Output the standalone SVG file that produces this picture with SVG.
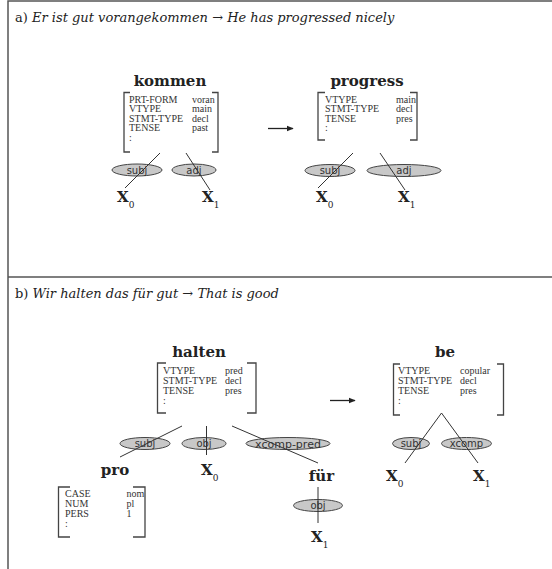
<svg xmlns="http://www.w3.org/2000/svg" width="552" height="569" viewBox="0 0 552 569">
<style>
.frame{stroke:#555;stroke-width:1.5;fill:none}
.title{font-family:"DejaVu Serif",serif;font-size:13px;fill:#222}
.it{font-style:italic}
.head{font-family:"DejaVu Serif",serif;font-weight:bold;font-size:15px;fill:#222;text-anchor:middle}
.attr{font-family:"Liberation Serif",serif;font-size:10px;fill:#333}
.br{stroke:#444;stroke-width:1.3;fill:none}
.ell{fill:#c8c8c8;stroke:#444;stroke-width:1}
.lab{font-family:"DejaVu Sans",sans-serif;font-size:10px;fill:#333;text-anchor:middle}
.edge{stroke:#333;stroke-width:1;fill:none}
.x{font-family:"DejaVu Serif",serif;font-weight:bold;font-size:15px;fill:#222}
.sub{font-size:9px;font-weight:normal}
.arrow{stroke:#222;stroke-width:1.3;fill:none}
</style>
<defs>
<marker id="ah" viewBox="0 0 10 10" refX="9" refY="5" markerWidth="7" markerHeight="7" markerUnits="userSpaceOnUse" orient="auto"><path d="M0,1 L10,5 L0,9 z" fill="#222"/></marker>
</defs>

<g id="frame">
<path class="frame" d="M8,569 V1 H552"/>
<path class="frame" d="M8,277 H552"/>
</g>

<g id="titles">
<text class="title" x="15" y="22">a) <tspan class="it">Er ist gut vorangekommen</tspan> → <tspan class="it">He has progressed nicely</tspan></text>
<text class="title" x="15" y="298">b) <tspan class="it">Wir halten das für gut</tspan> → <tspan class="it">That is good</tspan></text>
</g>

<!-- Section a -->
<g id="kommen">
<text class="head" x="170" y="86">kommen</text>
<path class="br" d="M130,92.5 H124 V152 H130"/>
<path class="br" d="M212,92.5 H218 V152 H212"/>
<text class="attr" x="129" y="102.5">PRT-FORM</text>
<text class="attr" x="129" y="112">VTYPE</text>
<text class="attr" x="129" y="121.5">STMT-TYPE</text>
<text class="attr" x="129" y="131">TENSE</text>
<text class="attr" x="129" y="140.5">:</text>
<text class="attr" x="192" y="102.5">voran</text>
<text class="attr" x="192" y="112">main</text>
<text class="attr" x="192" y="121.5">decl</text>
<text class="attr" x="192" y="131">past</text>
</g>
<g id="kommen-subj"><ellipse class="ell" cx="137" cy="170" rx="25" ry="6"/><text class="lab" x="137" y="173.5">subj</text></g>
<g id="kommen-adj"><ellipse class="ell" cx="194" cy="170" rx="22" ry="6"/><text class="lab" x="194" y="173.5">adj</text></g>
<g id="kommen-x0"><text class="x" x="117" y="202">X<tspan class="sub" dy="6">0</tspan></text></g>
<g id="kommen-x1"><text class="x" x="202" y="202">X<tspan class="sub" dy="6">1</tspan></text></g>

<g id="progress">
<text class="head" x="367" y="86">progress</text>
<path class="br" d="M325,92.5 H318 V140 H325"/>
<path class="br" d="M410,92.5 H417 V140 H410"/>
<text class="attr" x="325" y="102.5">VTYPE</text>
<text class="attr" x="325" y="112">STMT-TYPE</text>
<text class="attr" x="325" y="121.5">TENSE</text>
<text class="attr" x="325" y="131">:</text>
<text class="attr" x="396" y="102.5">main</text>
<text class="attr" x="396" y="112">decl</text>
<text class="attr" x="396" y="121.5">pres</text>
</g>
<g id="progress-subj"><ellipse class="ell" cx="330" cy="170.5" rx="25" ry="6"/><text class="lab" x="330" y="174">subj</text></g>
<g id="progress-adj"><ellipse class="ell" cx="404" cy="170.5" rx="37" ry="6"/><text class="lab" x="404" y="174">adj</text></g>
<g id="progress-x0"><text class="x" x="316" y="202">X<tspan class="sub" dy="6">0</tspan></text></g>
<g id="progress-x1"><text class="x" x="398" y="202">X<tspan class="sub" dy="6">1</tspan></text></g>

<!-- Section b -->
<g id="halten">
<text class="head" x="199" y="357">halten</text>
<path class="br" d="M166,363 H157.5 V413 H166"/>
<path class="br" d="M247,363 H256 V413 H247"/>
<text class="attr" x="163" y="374">VTYPE</text>
<text class="attr" x="163" y="384">STMT-TYPE</text>
<text class="attr" x="163" y="394">TENSE</text>
<text class="attr" x="163" y="404">:</text>
<text class="attr" x="225" y="374">pred</text>
<text class="attr" x="225" y="384">decl</text>
<text class="attr" x="225" y="394">pres</text>
</g>
<g id="halten-subj"><ellipse class="ell" cx="145" cy="443.5" rx="25" ry="6"/><text class="lab" x="145" y="447">subj</text></g>
<g id="halten-obj"><ellipse class="ell" cx="204" cy="443.5" rx="22" ry="6"/><text class="lab" x="204" y="447">obj</text></g>
<g id="halten-xcomp-pred"><ellipse class="ell" cx="288" cy="443.5" rx="42" ry="6"/><text class="lab" x="288" y="447.5" style="font-size:11px">xcomp-pred</text></g>

<g id="pro">
<text class="head" x="115" y="475">pro</text>
<path class="br" d="M70,487 H58.5 V537 H70"/>
<path class="br" d="M133,487 H145 V537 H133"/>
<text class="attr" x="65" y="497">CASE</text>
<text class="attr" x="65" y="507">NUM</text>
<text class="attr" x="65" y="517">PERS</text>
<text class="attr" x="65" y="527">:</text>
<text class="attr" x="126.5" y="497">nom</text>
<text class="attr" x="126.5" y="507">pl</text>
<text class="attr" x="126.5" y="517">1</text>
</g>
<g id="halten-x0"><text class="x" x="201" y="475">X<tspan class="sub" dy="6">0</tspan></text></g>

<g id="fuer"><text class="head" x="321.5" y="481">für</text></g>
<g id="fuer-obj"><ellipse class="ell" cx="318" cy="505.5" rx="24.5" ry="6"/><text class="lab" x="318" y="509">obj</text></g>
<g id="fuer-x1"><text class="x" x="311" y="542">X<tspan class="sub" dy="6">1</tspan></text></g>

<g id="be">
<text class="head" x="445" y="357">be</text>
<path class="br" d="M400,364 H393.5 V415 H400"/>
<path class="br" d="M497,364 H503.5 V415 H497"/>
<text class="attr" x="398" y="373.5">VTYPE</text>
<text class="attr" x="398" y="383.5">STMT-TYPE</text>
<text class="attr" x="398" y="393.5">TENSE</text>
<text class="attr" x="398" y="403.5">:</text>
<text class="attr" x="460" y="373.5">copular</text>
<text class="attr" x="460" y="383.5">decl</text>
<text class="attr" x="460" y="393.5">pres</text>
</g>
<g id="be-subj"><ellipse class="ell" cx="411" cy="443.5" rx="18.5" ry="6"/><text class="lab" x="411" y="447">subj</text></g>
<g id="be-xcomp"><ellipse class="ell" cx="466.5" cy="443.5" rx="25" ry="6"/><text class="lab" x="466.5" y="447">xcomp</text></g>
<g id="be-x0"><text class="x" x="386" y="481">X<tspan class="sub" dy="6">0</tspan></text></g>
<g id="be-x1"><text class="x" x="473" y="481">X<tspan class="sub" dy="6">1</tspan></text></g>

<g id="connectors">
<line class="edge" x1="160" y1="153" x2="125" y2="188"/>
<line class="edge" x1="186" y1="153" x2="210" y2="190"/>
<line class="edge" x1="353" y1="153" x2="318" y2="188"/>
<line class="edge" x1="380" y1="153" x2="405" y2="190"/>
<line class="arrow" x1="268" y1="128.5" x2="293" y2="128.5" marker-end="url(#ah)"/>
<line class="arrow" x1="330" y1="400.5" x2="355" y2="400.5" marker-end="url(#ah)"/>
<line class="edge" x1="182" y1="426" x2="120" y2="457"/>
<line class="edge" x1="206.5" y1="426" x2="206.5" y2="455"/>
<line class="edge" x1="232" y1="426" x2="318" y2="463"/>
<line class="edge" x1="318" y1="487" x2="318" y2="523"/>
<line class="edge" x1="441.5" y1="413" x2="405" y2="463"/>
<line class="edge" x1="441.5" y1="413" x2="478" y2="463"/>
</g>
</svg>
